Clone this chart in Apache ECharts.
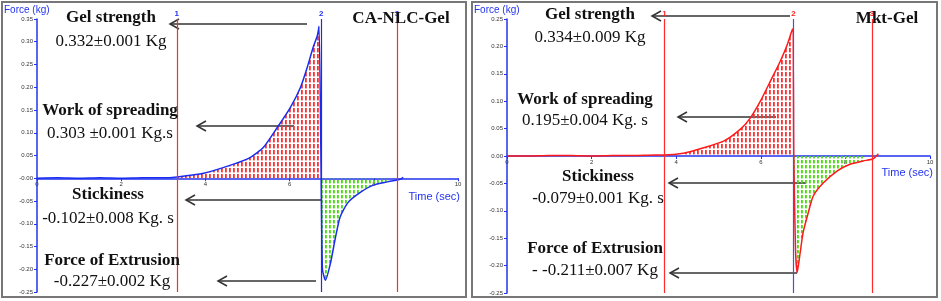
<!DOCTYPE html>
<html>
<head>
<meta charset="utf-8">
<script src="https://cdn.jsdelivr.net/npm/echarts@6/dist/echarts.min.js"></script>
<style>
  html, body { margin: 0; padding: 0; background: #fff; }
  #chart { width: 941px; height: 301px; }
</style>
</head>
<body>
<div id="chart"></div>
<script>
// CA-NLC-Gel (left panel) - force vs time
const leftTime  = [0, 0.5, 1, 1.5, 2, 2.5, 3, 3.33, 3.96, 4.67, 5.07, 5.38, 5.71, 6.02, 6.26, 6.42, 6.56, 6.66, 6.7, 6.75, 6.78, 6.85, 6.97, 7.09, 7.2, 7.39, 7.68, 7.99, 8.32, 8.63, 8.7]
const leftForce = [0, 0.001, 0, 0.001, 0, 0.001, 0.001, 0.003, 0.011, 0.031, 0.046, 0.068, 0.112, 0.156, 0.2, 0.244, 0.288, 0.314, 0.334, 0, -0.2, -0.224, -0.187, -0.13, -0.085, -0.053, -0.031, -0.015, -0.008, -0.002, 0.002]
const leftMarkers = [3.32, 6.75, 8.55]

// Mkt-Gel (right panel)
const rightTime  = [0, 0.5, 1, 1.5, 2, 2.5, 3, 3.5, 3.7, 4.17, 4.65, 5.12, 5.52, 5.75, 5.99, 6.23, 6.46, 6.63, 6.75, 6.78, 6.82, 6.86, 6.93, 7.0, 7.12, 7.24, 7.48, 7.81, 8.11, 8.42, 8.66, 8.78]
const rightForce = [0, 0, 0.001, 0.001, 0, 0.001, 0.001, 0.002, 0.002, 0.005, 0.015, 0.027, 0.049, 0.069, 0.1, 0.137, 0.173, 0.204, 0.232, 0, -0.17, -0.213, -0.177, -0.14, -0.104, -0.073, -0.049, -0.027, -0.015, -0.009, -0.005, 0.004]
const rightMarkers = [3.72, 6.77, 8.63]

const markerNames = ['1', '2', '3']

const leftNotes = [
  ['Gel strength', '0.332±0.001 Kg'],
  ['Work of spreading', '0.303 ±0.001 Kg.s'],
  ['Stickiness', '-0.102±0.008 Kg. s'],
  ['Force of Extrusion', '-0.227±0.002 Kg']
]
const rightNotes = [
  ['Gel strength', '0.334±0.009 Kg'],
  ['Work of spreading', '0.195±0.004 Kg. s'],
  ['Stickiness', '-0.079±0.001 Kg. s'],
  ['Force of Extrusion', '- -0.211±0.007 Kg']
]

// hatch patterns for the areas
function hatch(color, w, h, dash) {
  const c = document.createElement('canvas')
  c.width = w; c.height = h
  const ctx = c.getContext('2d')
  ctx.fillStyle = color
  ctx.fillRect(1, 0, 1.8, dash)
  return { image: c, repeat: 'repeat' }
}
const redHatch = hatch('#ff3030', 4, 6, 4.4)
const greenHatch = hatch('#3fe000', 4, 5, 3.4)

const pairs = (t, f) => t.map((v, i) => [v, f[i]])
const leftData = pairs(leftTime, leftForce)
const rightData = pairs(rightTime, rightForce)

const chart = echarts.init(document.getElementById('chart'))

// x axis sits on the zero force line: shift it up from the grid bottom
function axisX(gi, offset) {
  return {
    type: 'value', gridIndex: gi, min: 0, max: 10, interval: 2,
    position: 'bottom', offset: offset,
    axisLine: { onZero: false, lineStyle: { color: '#2233ee', width: 1.5 } },
    axisTick: { length: 3, lineStyle: { color: '#2233ee' } },
    axisLabel: { fontSize: 6, color: '#333', margin: 3 },
    splitLine: { show: false }
  }
}
function axisY(gi, max, left) {
  return {
    type: 'value', gridIndex: gi, min: -0.25, max: max, interval: 0.05,
    axisLine: { show: true, onZero: false, lineStyle: { color: '#2233ee', width: 1.5 } },
    axisTick: { show: true, length: 3, lineStyle: { color: '#2233ee' } },
    axisLabel: {
      fontSize: 6, color: '#333', margin: 4,
      formatter: v => Math.abs(v) < 1e-9 ? (left ? '-0.00' : '0.00') : v.toFixed(2)
    },
    splitLine: { show: false }
  }
}

function markLines(ms, labelColor, midColor) {
  return {
    silent: true, symbol: ['none', 'none'],
    data: ms.map((m, i) => ({
      xAxis: m,
      lineStyle: { color: i === 1 ? midColor : '#ff2a2a', width: 1.2, type: 'solid' },
      label: { show: true, position: 'end', formatter: markerNames[i], color: labelColor, fontSize: 8, fontWeight: 'bold', distance: 1 }
    }))
  }
}

function panelSeries(gi, data, ms, lineColor, labelColor, midColor) {
  const common = { type: 'line', xAxisIndex: gi, yAxisIndex: gi, symbol: 'none', smooth: 0.2 }
  return [
    Object.assign({}, common, {
      data: data.filter(d => d[0] >= ms[0] && d[0] <= ms[1] && d[1] >= 0),
      lineStyle: { width: 0 }, areaStyle: { color: redHatch, opacity: 1 }, z: 1
    }),
    Object.assign({}, common, {
      data: data.filter(d => d[0] >= ms[1] && d[0] <= ms[2] && d[1] <= 0),
      lineStyle: { width: 0 }, areaStyle: { color: greenHatch, opacity: 1 }, z: 1
    }),
    Object.assign({}, common, {
      data: data, lineStyle: { color: lineColor, width: 1.5 }, z: 3,
      markLine: markLines(ms, labelColor, midColor)
    })
  ]
}

// annotation helpers
function arrow(x1, x2, y) {
  return {
    type: 'group', children: [
      { type: 'line', shape: { x1: x1, y1: y, x2: x2, y2: y }, style: { stroke: '#333', lineWidth: 1.5 } },
      { type: 'polyline', shape: { points: [[x1 + 9, y - 5], [x1, y], [x1 + 9, y + 5]] }, style: { stroke: '#333', lineWidth: 1.5, fill: null } }
    ]
  }
}
function txt(s, x, y, bold, size) {
  return {
    type: 'text', x: x, y: y, z: 10,
    style: { text: s, align: 'center', verticalAlign: 'middle', fill: '#111',
      font: (bold ? 'bold ' : '') + size + 'px "Liberation Serif", serif' }
  }
}
function notes(list, xs, ys) {
  const out = []
  list.forEach((n, i) => {
    out.push(txt(n[0], xs[i], ys[i][0], true, 17))
    out.push(txt(n[1], xs[i], ys[i][1], false, 17))
  })
  return out
}
function small(s, x, y, size, align) {
  return { type: 'text', x: x, y: y, style: { text: s, fill: '#2233ee', align: align || 'left', verticalAlign: 'middle', font: size + 'px "Liberation Sans", Arial, sans-serif' } }
}

const graphics = [
  { type: 'rect', shape: { x: 2, y: 2, width: 464, height: 295 }, style: { stroke: '#777', lineWidth: 2, fill: null } },
  { type: 'rect', shape: { x: 472, y: 2, width: 465, height: 295 }, style: { stroke: '#777', lineWidth: 2, fill: null } },
  small('Force (kg)', 4, 10, 10),
  small('Time (sec)', 460, 197, 11, 'right'),
  small('Force (kg)', 474, 10, 10),
  small('Time (sec)', 933, 173, 11, 'right'),
  txt('CA-NLC-Gel', 401, 19, true, 17),
  txt('Mkt-Gel', 887, 19, true, 17),
  ...notes(leftNotes, [111, 110, 108, 112], [[18, 42], [111, 134], [195, 219], [261, 282]]),
  ...notes(rightNotes, [590, 585, 598, 595], [[15, 38], [100, 121], [177, 199], [249, 271]]),
  arrow(170, 307, 24), arrow(197, 294, 126), arrow(186, 322, 200), arrow(218, 316, 281),
  arrow(652, 790, 16), arrow(678, 776, 117), arrow(669, 806, 183), arrow(670, 797, 273)
]

chart.setOption({
  animation: false,
  grid: [
    { left: 37, right: 483, top: 19, bottom: 9 },
    { left: 507, right: 11, top: 19, bottom: 8 }
  ],
  xAxis: [axisX(0, -113.75), axisX(1, -137)],
  yAxis: [axisY(0, 0.35, true), axisY(1, 0.25, false)],
  series: [
    ...panelSeries(0, leftData, leftMarkers, '#1a2cf0', '#2233ee', '#2a2ad0'),
    ...panelSeries(1, rightData, rightMarkers, '#ff1a1a', '#ff2222', '#5050c8')
  ],
  graphic: graphics
})
</script>
</body>
</html>
